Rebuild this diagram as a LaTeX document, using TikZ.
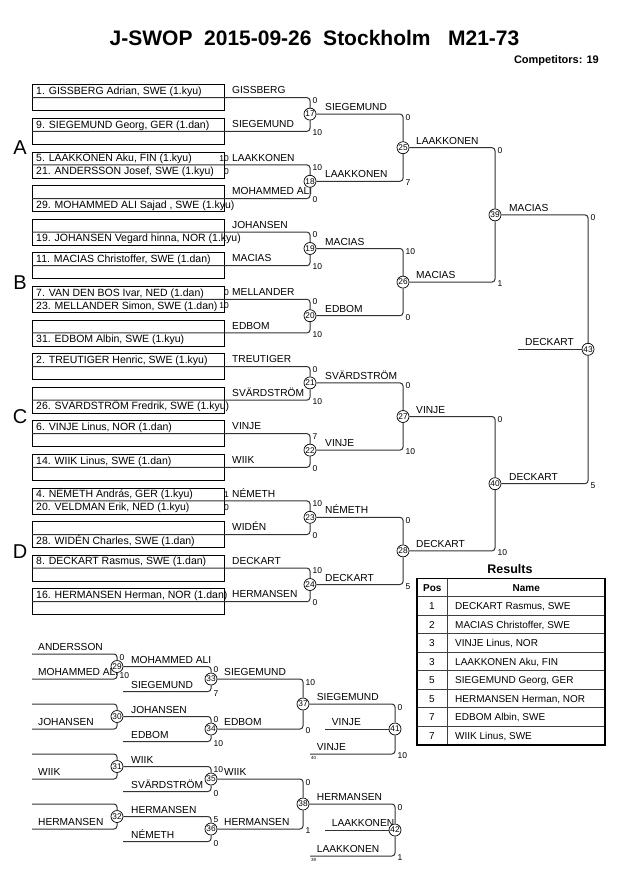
\documentclass[tikz,border=0pt]{standalone}
\usepackage{fontspec}
\setmainfont{Liberation Sans}
\usetikzlibrary{calc}
\newcommand\fsz[1]{\fontsize{#1}{#1}\selectfont}
% box: k, top text, top score, bottom text, bottom score, label
\newcommand\bx[6]{%
  \pgfmathsetmacro\bxT{84.3+33.6*#1}%
  \node[boxst] (box#1) at (32,\bxT) {};
  \node[nm] (bt#1) at (36,\bxT+6.5) {#2};
  \node[bsc] (bs#1) at (229,\bxT+6.5) {#3};
  \node[nm] (bb#1) at (36,\bxT+19.5) {#4};
  \node[bsc] (bu#1) at (229,\bxT+19.5) {#5};
  \node[lbl] (bl#1) at (232,\bxT+9.5) {#6};
}
% scores: name, x, ytop, ybot, top score, bottom score
\newcommand\sco[6]{%
  \node[sc] (#1t) at (#2+2.5,#3+3) {#5};
  \node[sc] (#1b) at (#2+2.5,#4+1.5) {#6};
}
\newcommand\rrow[3]{%
  \pgfmathsetmacro\ry{578.3+18.5*#1+9.25}%
  \node[tb] (rp#1) at (432,\ry) {#2};
  \node[tb, anchor=west] (rn#1) at (455,\ry) {#3};
}
\begin{document}
\begin{tikzpicture}[x=1pt,y=-1pt,
  ln/.style={line width=1pt, draw=black!80, rounded corners=3pt},
  boxst/.style={draw=black, line width=0.8pt, minimum width=192pt, minimum height=26pt, anchor=north west, inner sep=0pt},
  nm/.style={font=\fsz{10.5}, anchor=west, inner sep=0pt, text height=7.5pt, text depth=0pt},
  lbl/.style={font=\fsz{10.2}, anchor=base west, inner sep=0pt},
  sc/.style={font=\fsz{8.5}, anchor=west, inner sep=0pt, text height=6.1pt, text depth=0pt},
  bsc/.style={sc, anchor=east},
  mc/.style={circle, draw=black, fill=white, line width=0.7pt, minimum size=12pt, inner sep=0pt, font=\fsz{8.3}},
  grp/.style={font=\fsz{20}, inner sep=0pt, text height=14.3pt, text depth=0pt},
  tinyl/.style={font=\fsz{4.5}, anchor=north west, inner sep=0pt},
  tb/.style={font=\fsz{10}, inner sep=0pt, text height=7.2pt, text depth=0pt},
  tbh/.style={tb, font=\bfseries\fsz{10}}
]
\fill[white] (0,0) rectangle (630,891);
\useasboundingbox (0,0) rectangle (630,891);

% title
\node[font=\bfseries\fsz{21}, inner sep=0pt, text height=15pt, text depth=0pt] (title) at (314.5,38) {J-SWOP\ \ 2015-09-26\ \ Stockholm\ \ \ M21-73};
\node[font=\bfseries\fsz{11}, anchor=east, inner sep=0pt, text height=7.9pt, text depth=0pt] (comp) at (599,60) {Competitors: 19};

% group letters
\node[grp] (gA) at (20,147.7) {A};
\node[grp] (gB) at (20,282.1) {B};
\node[grp] (gC) at (20,416.5) {C};
\node[grp] (gD) at (20,550.9) {D};

% boxes
\bx{0}{1. GISSBERG Adrian, SWE (1.kyu)}{}{}{}{GISSBERG}
\bx{1}{9. SIEGEMUND Georg, GER (1.dan)}{}{}{}{SIEGEMUND}
\bx{2}{5. LAAKKONEN Aku, FIN (1.kyu)}{10}{21. ANDERSSON Josef, SWE (1.kyu)}{0}{LAAKKONEN}
\bx{3}{}{}{29. MOHAMMED ALI Sajad , SWE (1.kyu)}{}{MOHAMMED ALI}
\bx{4}{}{}{19. JOHANSEN Vegard hinna, NOR (1.kyu)}{}{JOHANSEN}
\bx{5}{11. MACIAS Christoffer, SWE (1.dan)}{}{}{}{MACIAS}
\bx{6}{7. VAN DEN BOS Ivar, NED (1.dan)}{0}{23. MELLANDER Simon, SWE (1.dan)}{10}{MELLANDER}
\bx{7}{}{}{31. EDBOM Albin, SWE (1.kyu)}{}{EDBOM}
\bx{8}{2. TREUTIGER Henric, SWE (1.kyu)}{}{}{}{TREUTIGER}
\bx{9}{}{}{26. SVÄRDSTRÖM Fredrik, SWE (1.kyu)}{}{SVÄRDSTRÖM}
\bx{10}{6. VINJE Linus, NOR (1.dan)}{}{}{}{VINJE}
\bx{11}{14. WIIK Linus, SWE (1.dan)}{}{}{}{WIIK}
\bx{12}{4. NÉMETH András, GER (1.kyu)}{1}{20. VELDMAN Erik, NED (1.kyu)}{0}{NÉMETH}
\bx{13}{}{}{28. WIDÉN Charles, SWE (1.dan)}{}{WIDÉN}
\bx{14}{8. DECKART Rasmus, SWE (1.dan)}{}{}{}{DECKART}
\bx{15}{16. HERMANSEN Herman, NOR (1.dan)}{}{}{}{HERMANSEN}

% upper winner labels
\node[lbl] (w17) at (325,110.6) {SIEGEMUND};
\node[lbl] (w18) at (325,177.8) {LAAKKONEN};
\node[lbl] (w19) at (325,245) {MACIAS};
\node[lbl] (w20) at (325,312.2) {EDBOM};
\node[lbl] (w21) at (325,379.4) {SVÄRDSTRÖM};
\node[lbl] (w22) at (325,446.6) {VINJE};
\node[lbl] (w23) at (325,513.8) {NÉMETH};
\node[lbl] (w24) at (325,581) {DECKART};
\node[lbl] (w25) at (416,144.2) {LAAKKONEN};
\node[lbl] (w26) at (416,278.6) {MACIAS};
\node[lbl] (w27) at (416,413) {VINJE};
\node[lbl] (w28) at (416,547.4) {DECKART};
\node[lbl] (w39) at (509,211.4) {MACIAS};
\node[lbl] (w40) at (509,480.2) {DECKART};
\node[lbl] (w43) at (525,345.8) {DECKART};

% upper circles
\node[mc] (m17) at (310,114.1) {17};
\node[mc] (m18) at (310,181.3) {18};
\node[mc] (m19) at (310,248.5) {19};
\node[mc] (m20) at (310,315.7) {20};
\node[mc] (m21) at (310,382.9) {21};
\node[mc] (m22) at (310,450.1) {22};
\node[mc] (m23) at (310,517.3) {23};
\node[mc] (m24) at (310,584.5) {24};
\node[mc] (m25) at (403,147.7) {25};
\node[mc] (m26) at (403,282.1) {26};
\node[mc] (m27) at (403,416.5) {27};
\node[mc] (m28) at (403,550.9) {28};
\node[mc] (m39) at (495,214.9) {39};
\node[mc] (m40) at (495,483.7) {40};
\node[mc] (m43) at (588,349.3) {43};

% upper scores
\sco{s17}{310}{97.3}{130.9}{0}{10}
\sco{s18}{310}{164.5}{198.1}{10}{0}
\sco{s19}{310}{231.7}{265.3}{0}{10}
\sco{s20}{310}{298.9}{332.5}{0}{10}
\sco{s21}{310}{366.1}{399.7}{0}{10}
\sco{s22}{310}{433.3}{466.9}{7}{0}
\sco{s23}{310}{500.5}{534.1}{10}{0}
\sco{s24}{310}{567.7}{601.3}{10}{0}
\sco{s25}{403}{114.1}{181.3}{0}{7}
\sco{s26}{403}{248.5}{315.7}{10}{0}
\sco{s27}{403}{382.9}{450.1}{0}{10}
\sco{s28}{403}{517.3}{584.5}{0}{5}
\sco{s39}{495}{147.7}{282.1}{0}{1}
\sco{s40}{495}{416.5}{550.9}{0}{10}
\sco{s43}{588}{214.9}{483.7}{0}{5}

% upper connectors
\draw[ln] (box0.west) -| (m17.north);  \draw[ln] (box1.west) -| (m17.south);
\draw[ln] (box2.west) -| (m18.north);  \draw[ln] (box3.west) -| (m18.south);
\draw[ln] (box4.west) -| (m19.north);  \draw[ln] (box5.west) -| (m19.south);
\draw[ln] (box6.west) -| (m20.north);  \draw[ln] (box7.west) -| (m20.south);
\draw[ln] (box8.west) -| (m21.north);  \draw[ln] (box9.west) -| (m21.south);
\draw[ln] (box10.west) -| (m22.north); \draw[ln] (box11.west) -| (m22.south);
\draw[ln] (box12.west) -| (m23.north); \draw[ln] (box13.west) -| (m23.south);
\draw[ln] (box14.west) -| (m24.north); \draw[ln] (box15.west) -| (m24.south);
\draw[ln] (m17.east) -| (m25.north); \draw[ln] (m18.east) -| (m25.south);
\draw[ln] (m19.east) -| (m26.north); \draw[ln] (m20.east) -| (m26.south);
\draw[ln] (m21.east) -| (m27.north); \draw[ln] (m22.east) -| (m27.south);
\draw[ln] (m23.east) -| (m28.north); \draw[ln] (m24.east) -| (m28.south);
\draw[ln] (m25.east) -| (m39.north); \draw[ln] (m26.east) -| (m39.south);
\draw[ln] (m27.east) -| (m40.north); \draw[ln] (m28.east) -| (m40.south);
\draw[ln] (m39.east) -| (m43.north); \draw[ln] (m40.east) -| (m43.south);
\coordinate (fin) at (518,349.3);
\draw[ln] (fin) -- (m43.west);

% ===== results table =====
\node[font=\bfseries\fsz{12.5}, inner sep=0pt, text height=9pt, text depth=0pt] (restitle) at (510,569) {Results};
\foreach \i in {1,...,8} \draw[black!75, line width=0.8pt] (416.7,578.3+18.5*\i) -- (605,578.3+18.5*\i);
\draw[black!75, line width=0.8pt] (447.3,578.3) -- (447.3,744.8);
\draw[black, line width=1.6pt] (416.7,578.3) rectangle (605,744.8);
\node[tbh, anchor=west] (hpos) at (423,587.55) {Pos};
\node[tbh] (hname) at (526.2,587.55) {Name};
\rrow{1}{1}{DECKART Rasmus, SWE}
\rrow{2}{2}{MACIAS Christoffer, SWE}
\rrow{3}{3}{VINJE Linus, NOR}
\rrow{4}{3}{LAAKKONEN Aku, FIN}
\rrow{5}{5}{SIEGEMUND Georg, GER}
\rrow{6}{5}{HERMANSEN Herman, NOR}
\rrow{7}{7}{EDBOM Albin, SWE}
\rrow{8}{7}{WIIK Linus, SWE}

% ===== repechage =====
% column A inputs
\coordinate (a29t) at (32,654);   \coordinate (a29b) at (32,679);
\coordinate (a30t) at (32,704);   \coordinate (a30b) at (32,729);
\coordinate (a31t) at (32,754);   \coordinate (a31b) at (32,779);
\coordinate (a32t) at (32,804);   \coordinate (a32b) at (32,829);
\node[lbl] (la29t) at (38,650.5) {ANDERSSON};
\node[lbl] (la29b) at (38,675.5) {MOHAMMED ALI};
\node[lbl] (la30b) at (38,725.5) {JOHANSEN};
\node[lbl] (la31b) at (38,775.5) {WIIK};
\node[lbl] (la32b) at (38,825.5) {HERMANSEN};
% column B labels
\node[lbl] (lb29) at (131,663) {MOHAMMED ALI};
\node[lbl] (lb33) at (131,688) {SIEGEMUND};
\node[lbl] (lb30) at (131,713) {JOHANSEN};
\node[lbl] (lb34) at (131,738) {EDBOM};
\node[lbl] (lb31) at (131,763) {WIIK};
\node[lbl] (lb35) at (131,788) {SVÄRDSTRÖM};
\node[lbl] (lb32) at (131,813) {HERMANSEN};
\node[lbl] (lb36) at (131,838) {NÉMETH};
\coordinate (b33) at (123,691.5);
\coordinate (b34) at (123,741.5);
\coordinate (b35) at (123,791.5);
\coordinate (b36) at (123,841.5);
% column C labels
\node[lbl] (lc33) at (224,675.5) {SIEGEMUND};
\node[lbl] (lc34) at (224,725.5) {EDBOM};
\node[lbl] (lc35) at (224,775.5) {WIIK};
\node[lbl] (lc36) at (224,825.5) {HERMANSEN};
% column D labels
\node[lbl] (ld37) at (316.7,700.5) {SIEGEMUND};
\node[lbl] (ld41m) at (331.7,725.5) {VINJE};
\node[lbl] (ld41b) at (316.7,750.5) {VINJE};
\node[tinyl] (t40) at (311,755.8) {40};
\node[lbl] (ld38) at (316.7,800.5) {HERMANSEN};
\node[lbl] (ld42m) at (331.7,826.5) {LAAKKONEN};
\node[lbl] (ld42b) at (316.7,852.5) {LAAKKONEN};
\node[tinyl] (t39) at (311,857.8) {39};
\coordinate (d41m) at (325,729);
\coordinate (d41b) at (310,754);
\coordinate (d42m) at (325,830);
\coordinate (d42b) at (310,856);

% circles
\node[mc] (m29) at (117,666.5) {29};
\node[mc] (m30) at (117,716.5) {30};
\node[mc] (m31) at (117,766.5) {31};
\node[mc] (m32) at (117,816.5) {32};
\node[mc] (m33) at (211,679) {33};
\node[mc] (m34) at (211,729) {34};
\node[mc] (m35) at (211,779) {35};
\node[mc] (m36) at (211,829) {36};
\node[mc] (m37) at (303,704) {37};
\node[mc] (m38) at (303,804) {38};
\node[mc] (m41) at (395,729) {41};
\node[mc] (m42) at (395,830) {42};

% scores
\sco{s29}{117}{654}{674}{0}{10}
\sco{s33}{211}{666.5}{691.5}{0}{7}
\sco{s34}{211}{716.5}{741.5}{0}{10}
\sco{s35}{211}{766.5}{791.5}{10}{0}
\sco{s36}{211}{816.5}{841.5}{5}{0}
\sco{s37}{303}{679}{729}{10}{0}
\sco{s38}{303}{779}{829}{0}{1}
\sco{s41}{395}{704}{754}{0}{10}
\sco{s42}{395}{804}{856}{0}{1}

% connectors
\draw[ln] (a29t) -| (m29.north); \draw[ln] (a29b) -| (m29.south);
\draw[ln] (a30t) -| (m30.north); \draw[ln] (a30b) -| (m30.south);
\draw[ln] (a31t) -| (m31.north); \draw[ln] (a31b) -| (m31.south);
\draw[ln] (a32t) -| (m32.north); \draw[ln] (a32b) -| (m32.south);
\draw[ln] (m29.east) -| (m33.north); \draw[ln] (b33) -| (m33.south);
\draw[ln] (m30.east) -| (m34.north); \draw[ln] (b34) -| (m34.south);
\draw[ln] (m31.east) -| (m35.north); \draw[ln] (b35) -| (m35.south);
\draw[ln] (m32.east) -| (m36.north); \draw[ln] (b36) -| (m36.south);
\draw[ln] (m33.east) -| (m37.north); \draw[ln] (m34.east) -| (m37.south);
\draw[ln] (m35.east) -| (m38.north); \draw[ln] (m36.east) -| (m38.south);
\draw[ln] (m37.east) -| (m41.north); \draw[ln] (d41m) -- (m41.west); \draw[ln] (d41b) -| (m41.south);
\draw[ln] (m38.east) -| (m42.north); \draw[ln] (d42m) -- (m42.west); \draw[ln] (d42b) -| (m42.south);
\end{tikzpicture}
\end{document}
